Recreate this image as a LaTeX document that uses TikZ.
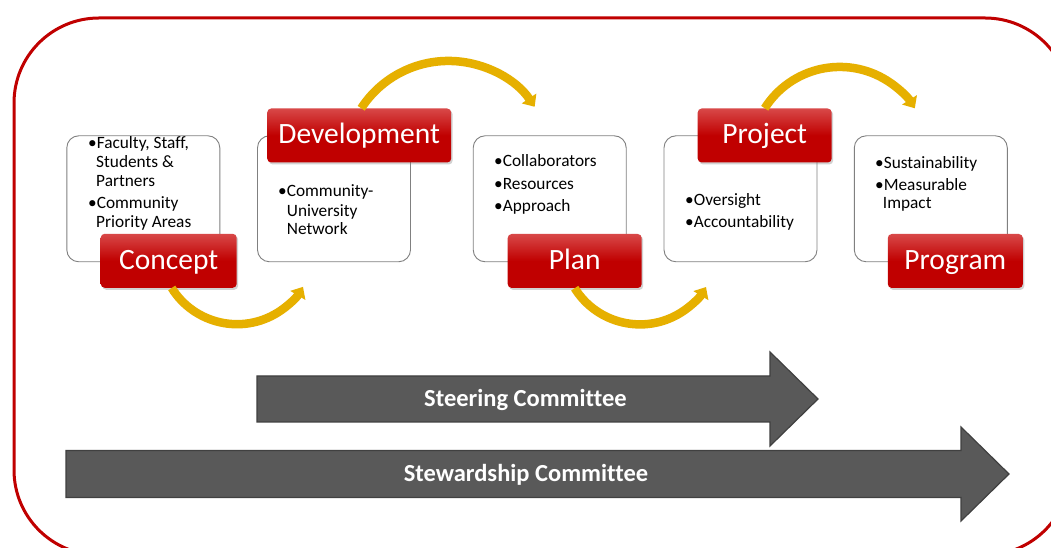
\documentclass[tikz,border=0pt]{standalone}
\usepackage{fontspec}
\setmainfont[Ligatures=NoCommon]{Carlito}
\usetikzlibrary{arrows.meta,shadows}
\definecolor{redlbl}{HTML}{C00000}
\definecolor{redlight}{HTML}{D84848}
\definecolor{gold}{HTML}{E6B000}
\definecolor{arrowgray}{HTML}{595959}
\definecolor{arrowedge}{HTML}{404040}
\definecolor{boxedge}{HTML}{808080}
\begin{document}
\begin{tikzpicture}[x=1pt,y=1pt,
 infobox/.style={draw=boxedge, line width=0.9pt, rounded corners=12pt, fill=white, minimum width=153pt, minimum height=126pt, inner sep=0pt},
 stage/.style={rounded corners=4pt, top color=redlight, bottom color=redlbl, middle color=redlbl, minimum height=54pt, minimum width=135pt, inner sep=0pt, text=white, font=\fontsize{29.5}{31}\selectfont, text height=21pt, text depth=4pt, drop shadow={shadow xshift=1.5pt, shadow yshift=-2pt, opacity=0.35}},
 bl/.style={anchor=base west, inner sep=0pt, font=\fontsize{17.3}{19}\selectfont},
 flow/.style={draw=gold, line width=8.5pt, -{Triangle[length=10pt,width=17pt]}},
 bigarrow/.style={fill=arrowgray, draw=arrowedge, line width=1.2pt, line join=miter},
 arrowtext/.style={text=white, font=\bfseries\fontsize{24.5}{27}\selectfont, inner sep=0pt, text height=17pt, text depth=4pt}
]
\useasboundingbox (0,0) rectangle (1051,548);
\clip (0,0) rectangle (1051,548);
\fill[white] (0,0) rectangle (1051,548);
% outer frame
\draw[draw=redlbl, line width=3pt, rounded corners=85pt] (14,530) rectangle (1070,-7);

% info boxes
\node[infobox] (b1) at (143.3,349.2) {};
\node[infobox] (b2) at (334.0,349.2) {};
\node[infobox] (b3) at (549.7,349.2) {};
\node[infobox] (b4) at (740.5,349.2) {};
\node[infobox] (b5) at (930.8,349.2) {};

% box texts
\node[bl] (t1a) at (88,399) {•Faculty, Staff,};
\node[bl] (t1b) at (96,380) {Students \&};
\node[bl] (t1c) at (96,361) {Partners};
\node[bl] (t1d) at (88,339) {•Community};
\node[bl] (t1e) at (96,320) {Priority Areas};

\node[bl] (t2a) at (278,351.3) {•Community-};
\node[bl] (t2b) at (286.7,331.3) {University};
\node[bl] (t2c) at (286.7,313) {Network};

\node[bl] (t3a) at (494,381.3) {•Collaborators};
\node[bl] (t3b) at (494,358) {•Resources};
\node[bl] (t3c) at (494,336.3) {•Approach};

\node[bl] (t4a) at (685,342.3) {•Oversight};
\node[bl] (t4b) at (685,320.3) {•Accountability};

\node[bl] (t5a) at (875,379.7) {•Sustainability};
\node[bl] (t5b) at (875,357) {•Measurable};
\node[bl] (t5c) at (882.7,339.7) {Impact};

% stage labels
\node[stage, minimum width=136pt] (concept) at (168.7,287.2) {Concept};
\node[stage, minimum width=184pt] (dev) at (359.2,412.5) {Development};
\node[stage, minimum width=134pt] (plan) at (574.7,287) {Plan};
\node[stage, minimum width=134pt] (project) at (764.7,412.5) {Project};
\node[stage, minimum width=135pt] (program) at (955.3,287) {Program};

% flow arcs
\draw[flow] ([xshift=3pt]concept.south) arc[start angle=212, end angle=329, radius=77];
\draw[flow] ([xshift=2pt]dev.north) arc[start angle=147, end angle=34, radius=104];
\draw[flow] ([xshift=0pt]plan.south) arc[start angle=212, end angle=329, radius=77];
\draw[flow] ([xshift=0pt]project.north) arc[start angle=147.7, end angle=32.3, radius=88.8];

% committee arrows
\draw[bigarrow] (257,172) -- (770,172) -- (770,196) -- (818,149) -- (770,102) -- (770,126) -- (257,126) -- cycle;
\node[arrowtext] (steer) at (525.5,147.5) {Steering Committee};
\draw[bigarrow] (66,97.5) -- (961,97.5) -- (961,121) -- (1009,74) -- (961,27) -- (961,50.5) -- (66,50.5) -- cycle;
\node[arrowtext] (steward) at (526,72.5) {Stewardship Committee};
\end{tikzpicture}
\end{document}
